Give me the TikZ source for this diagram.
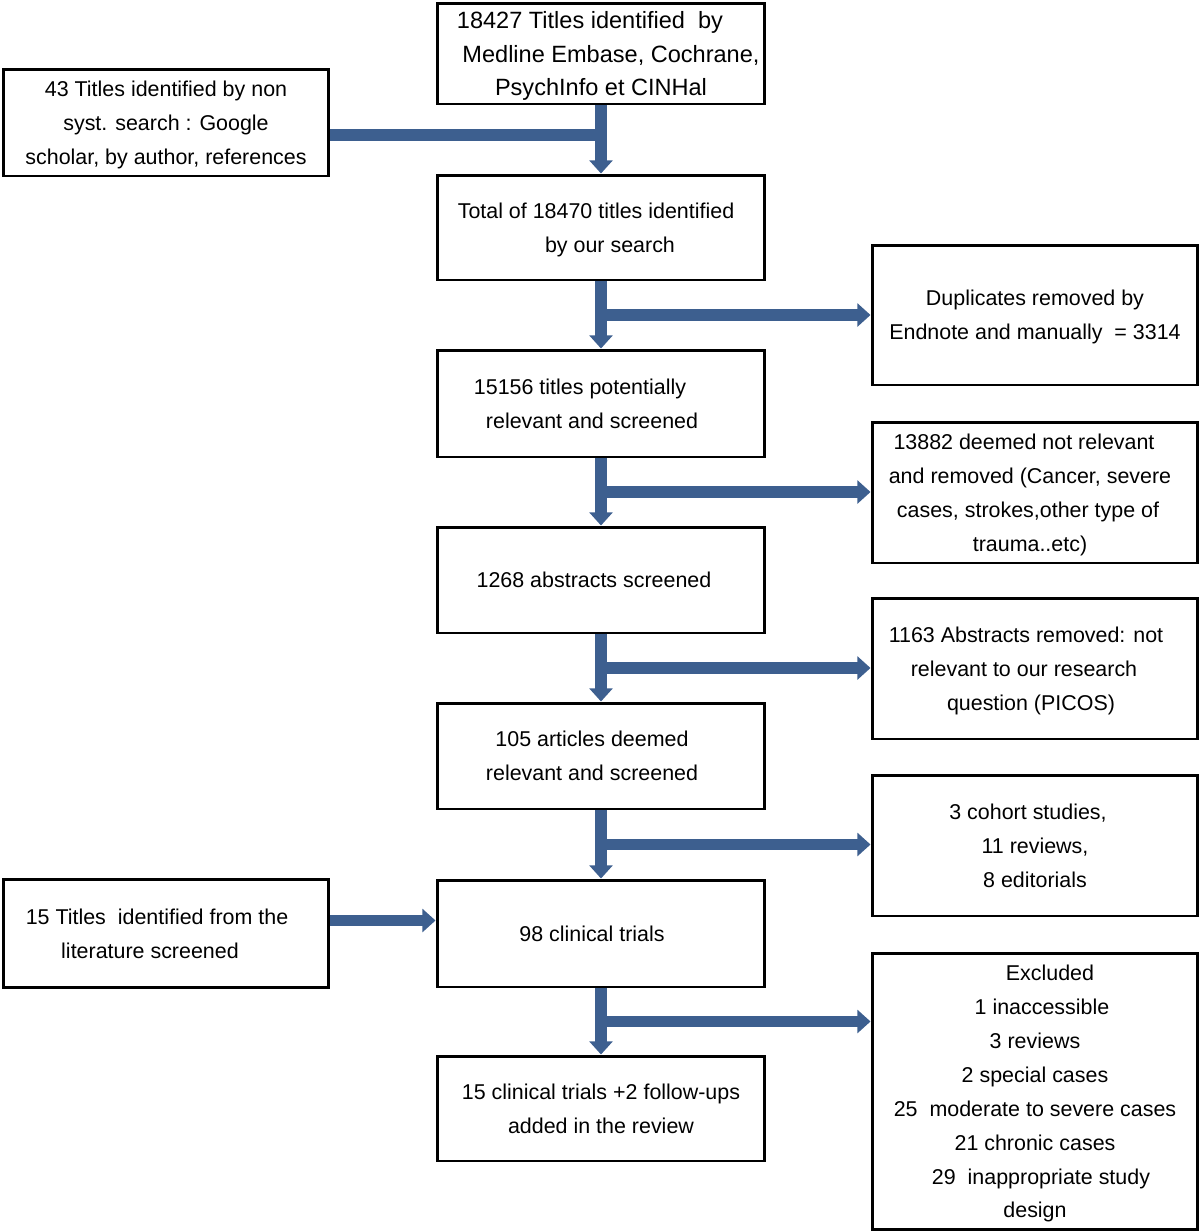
\documentclass[tikz,border=0pt]{standalone}
\usepackage{fontspec}
\setmainfont{Liberation Sans}
\usetikzlibrary{arrows.meta, calc}

\definecolor{flowblue}{RGB}{61,95,143}
\tikzset{
    box/.style={draw, line width=1.7pt, minimum width=6.56cm, inner sep=0pt,
        align=center, font=\fontsize{12.2}{19.3}\selectfont, text depth=-2pt},
    sidebox/.style={box, minimum width=6.52cm},
    flow/.style={draw=flowblue, line width=6.8pt,
        -{Triangle[length=7.5pt 0, width=13pt 0]}},
    flowjoin/.style={draw=flowblue, line width=6.8pt},
}

\begin{document}
\begin{tikzpicture}[x=0.02cm, y=-0.02cm]
\useasboundingbox (0,0) rectangle (1200,1232);
% Main column
\node[box, minimum height=2.02cm, font=\fontsize{13.4}{19.3}\selectfont] (db) at (601,53.5)
    {\hspace*{-0.44cm}18427 Titles identified~ by\\\hspace*{0.4cm}Medline Embase, Cochrane,\\PsychInfo et CINHal};
\node[box, minimum height=2.1cm] (total) at (601,227.5)
    {\hspace*{-0.2cm}Total of 18470 titles identified\\\hspace*{0.36cm}by our search};
\node[box, minimum height=2.14cm] (screen) at (601,403.5)
    {\hspace*{-0.84cm}15156 titles potentially\\\hspace*{-0.36cm}relevant and screened};
\node[box, minimum height=2.12cm] (abstr) at (601,580)
    {\hspace*{-0.28cm}1268 abstracts screened};
\node[box, minimum height=2.12cm] (articles) at (601,756)
    {\hspace*{-0.36cm}105 articles deemed\\\hspace*{-0.36cm}relevant and screened};
\node[box, minimum height=2.14cm] (trials) at (601,933.5)
    {\hspace*{-0.36cm}98 clinical trials};
\node[box, minimum height=2.1cm] (final) at (601,1108.5)
    {15 clinical trials +2 follow-ups\\added in the review};
% Left column
\node[sidebox, minimum height=2.14cm] (search) at (166,122.5)
    {43 Titles identified by non\\syst. search : Google\\scholar, by author, references};
\node[sidebox, minimum height=2.16cm] (lit) at (166,933.5)
    {\hspace*{-0.36cm}15 Titles~ identified from the\\\hspace*{-0.64cm}literature screened};
% Right column
\node[sidebox, minimum height=2.8cm] (dup) at (1035,315)
    {Duplicates removed by\\Endnote and manually~ = 3314};
\node[sidebox, minimum height=2.82cm] (notrel) at (1035,492.5)
    {\hspace*{-0.44cm}13882 deemed not relevant\\\hspace*{-0.2cm}and removed (Cancer, severe\\\hspace*{-0.28cm}cases, strokes,other type of\\\hspace*{-0.2cm}trauma..etc)};
\node[sidebox, minimum height=2.82cm] (absrem) at (1035,668.5)
    {\hspace*{-0.36cm}1163 Abstracts removed: not\\\hspace*{-0.44cm}relevant to our research\\\hspace*{-0.16cm}question (PICOS)};
\node[sidebox, minimum height=2.82cm] (other) at (1035,845.5)
    {\hspace*{-0.28cm}3 cohort studies,\\11 reviews,\\8 editorials};
\node[sidebox, minimum height=5.54cm] (excl) at (1035,1091.5)
    {\hspace*{0.6cm}Excluded\\\hspace*{0.28cm}1 inaccessible\\3 reviews\\2 special cases\\25~ moderate to severe cases\\21 chronic cases\\\hspace*{0.24cm}29~ inappropriate study\\design};
% Junctions
\coordinate (j0) at (601,135);
\coordinate (j1) at ($(total.south)!0.5!(screen.north)$);
\coordinate (j2) at ($(screen.south)!0.5!(abstr.north)$);
\coordinate (j3) at ($(abstr.south)!0.5!(articles.north)$);
\coordinate (j4) at ($(articles.south)!0.5!(trials.north)$);
\coordinate (j5) at ($(trials.south)!0.5!(final.north)$);
% Arrows
\draw[flowjoin] (search.east |- j0) -- (j0);
\draw[flow] (db) -- (total);
\draw[flow] (total) -- (screen);
\draw[flow] (screen) -- (abstr);
\draw[flow] (abstr) -- (articles);
\draw[flow] (articles) -- (trials);
\draw[flow] (trials) -- (final);
\draw[flow] (j1) -- (j1 -| dup.west);
\draw[flow] (j2) -- (j2 -| notrel.west);
\draw[flow] (j3) -- (j3 -| absrem.west);
\draw[flow] (j4) -- (j4 -| other.west);
\draw[flow] (j5) -- (j5 -| excl.west);
\draw[flow] ([yshift=0.26cm]lit.east) -- ([yshift=0.26cm]trials.west);
\end{tikzpicture}
\end{document}
